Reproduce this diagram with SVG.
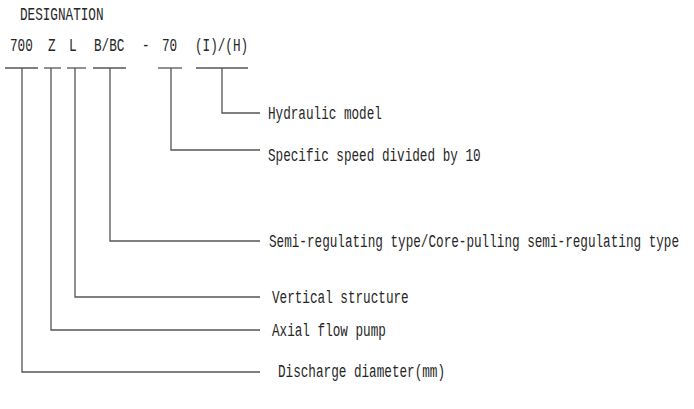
<svg xmlns="http://www.w3.org/2000/svg" width="694" height="409" viewBox="0 0 694 409">
<style>
text{font-family:"Liberation Mono","DejaVu Sans Mono",monospace;font-size:19px;fill:#262626}
.c line,.c polyline{stroke:#555;stroke-width:1.3;fill:none}
</style>
<rect width="694" height="409" fill="#fff"/>
<g id="title"><text transform="matrix(0.667 0 0 1 20 20)">DESIGNATION</text></g>
<g id="code">
<text transform="matrix(0.667 0 0 1 10 51)">700</text>
<text transform="matrix(0.667 0 0 1 48 51)">Z</text>
<text transform="matrix(0.667 0 0 1 69 51)">L</text>
<text transform="matrix(0.667 0 0 1 94 51)">B/BC</text>
<text transform="matrix(0.667 0 0 1 142 51)">-</text>
<text transform="matrix(0.667 0 0 1 162 51)">70</text>
<text transform="matrix(0.667 0 0 1 195 51)">(I)/(H)</text>
</g>
<g id="connectors" class="c">
<line x1="5" y1="68" x2="38" y2="68"/>
<line x1="44" y1="68" x2="61" y2="68"/>
<line x1="67" y1="68" x2="86" y2="68"/>
<line x1="93" y1="68" x2="126" y2="68"/>
<line x1="158" y1="68" x2="182" y2="68"/>
<line x1="196" y1="68" x2="248" y2="68"/>
<polyline points="222,68 222,113 260,113"/>
<polyline points="171,68 171,150 260,150"/>
<polyline points="110,68 110,241 260,241"/>
<polyline points="75,68 75,297 260,297"/>
<polyline points="51,68 51,330 260,330"/>
<polyline points="22,68 22,372 260,372"/>
</g>
<g id="hydraulic"><text transform="matrix(0.667 0 0 1 268 119)">Hydraulic model</text></g>
<g id="specific"><text transform="matrix(0.667 0 0 1 268 161)">Specific speed divided by 10</text></g>
<g id="semi"><text transform="matrix(0.667 0 0 1 269 247)">Semi-regulating type/Core-pulling semi-regulating type</text></g>
<g id="vertical"><text transform="matrix(0.667 0 0 1 272 303)">Vertical structure</text></g>
<g id="axial"><text transform="matrix(0.667 0 0 1 272 336)">Axial flow pump</text></g>
<g id="discharge"><text transform="matrix(0.667 0 0 1 278 377)">Discharge diameter(mm)</text></g>
</svg>
